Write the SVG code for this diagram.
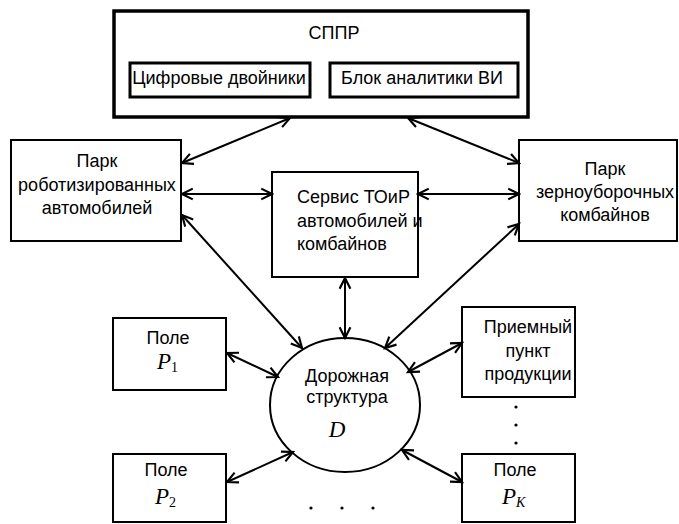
<svg xmlns="http://www.w3.org/2000/svg" width="679" height="524" viewBox="0 0 679 524">
<style>
.box{fill:#fff;stroke:#000;stroke-width:2}
.t{font-family:"Liberation Sans",Arial,sans-serif;font-size:18px;fill:#000}
.m{text-anchor:middle}
.v{font-family:"Liberation Serif","Times New Roman",serif;font-style:italic;font-size:23px;fill:#000}
.sub{font-family:"Liberation Serif","Times New Roman",serif;font-size:14px;font-style:normal}
.c line{stroke:#000;stroke-width:2;marker-start:url(#ah);marker-end:url(#ah)}
</style>
<defs>
<marker id="ah" markerUnits="userSpaceOnUse" markerWidth="14" markerHeight="14" viewBox="-1 -1 13 12" refX="10" refY="5" orient="auto-start-reverse">
<path d="M0,0 L10,5 L0,10" fill="none" stroke="#000" stroke-width="2"/>
</marker>
</defs>
<rect width="679" height="524" fill="#fff"/>
<g id="sppr">
<rect x="114" y="11" width="414" height="106" fill="#fff" stroke="#000" stroke-width="3.5"/>
<text class="t m" x="334" y="39">СППР</text>
<g id="twins"><rect x="130" y="63" width="180" height="34" fill="#fff" stroke="#000" stroke-width="3"/>
<text class="t m" x="219" y="84">Цифровые двойники</text></g>
<g id="analytics"><rect x="330" y="63" width="188" height="34" fill="#fff" stroke="#000" stroke-width="3"/>
<text class="t m" x="422" y="84">Блок аналитики ВИ</text></g>
</g>
<g id="park-auto">
<rect class="box" x="11" y="140" width="170" height="101"/>
<text class="t m" x="97" y="167">Парк</text>
<text class="t m" x="97" y="191">роботизированных</text>
<text class="t m" x="97" y="214">автомобилей</text>
</g>
<g id="service">
<rect class="box" x="272" y="172" width="146" height="105"/>
<text class="t" x="297" y="203">Сервис ТОиР</text>
<text class="t" x="297" y="227">автомобилей и</text>
<text class="t" x="297" y="250">комбайнов</text>
</g>
<g id="park-combine">
<rect class="box" x="519" y="140" width="158" height="101"/>
<text class="t m" x="605" y="175">Парк</text>
<text class="t m" x="605" y="198">зерноуборочных</text>
<text class="t m" x="605" y="221">комбайнов</text>
</g>
<g id="road">
<ellipse cx="345" cy="405" rx="75" ry="67" fill="#fff" stroke="#000" stroke-width="2"/>
<text class="t m" x="347" y="382">Дорожная</text>
<text class="t m" x="347" y="403">структура</text>
<text class="v m" x="337" y="437">D</text>
</g>
<g id="field1">
<rect class="box" x="113" y="318" width="113" height="72"/>
<text class="t m" x="168" y="344">Поле</text>
<text class="v" x="157" y="369">P<tspan class="sub" dy="3">1</tspan></text>
</g>
<g id="receiving">
<rect class="box" x="462" y="307" width="113" height="90"/>
<text class="t m" x="528" y="333">Приемный</text>
<text class="t m" x="528" y="357">пункт</text>
<text class="t m" x="528" y="380">продукции</text>
</g>
<g id="field2">
<rect class="box" x="113" y="454" width="113" height="68"/>
<text class="t m" x="166" y="476">Поле</text>
<text class="v" x="155" y="504">P<tspan class="sub" dy="3">2</tspan></text>
</g>
<g id="fieldK">
<rect class="box" x="462" y="454" width="113" height="68"/>
<text class="t m" x="515" y="476">Поле</text>
<text class="v" x="502" y="504">P<tspan class="sub" style="font-style:italic" dy="3">K</tspan></text>
</g>
<g id="dots" fill="#000">
<circle cx="516" cy="407" r="1.6"/><circle cx="516" cy="425" r="1.6"/><circle cx="516" cy="443" r="1.6"/>
<circle cx="311" cy="508" r="1.6"/><circle cx="342" cy="508" r="1.6"/><circle cx="373" cy="508" r="1.6"/>
</g>
<g id="connectors" class="c">
<line x1="290" y1="118" x2="182" y2="163"/>
<line x1="408" y1="118" x2="519" y2="163"/>
<line x1="182" y1="194" x2="272" y2="194"/>
<line x1="418" y1="194" x2="519" y2="194"/>
<line x1="182" y1="215" x2="302" y2="348"/>
<line x1="345" y1="278" x2="345" y2="338"/>
<line x1="519" y1="224" x2="385" y2="348"/>
<line x1="227" y1="353" x2="278" y2="377"/>
<line x1="462" y1="343" x2="408" y2="372"/>
<line x1="227" y1="482" x2="293" y2="452"/>
<line x1="462" y1="482" x2="402" y2="450"/>
</g>
</svg>
